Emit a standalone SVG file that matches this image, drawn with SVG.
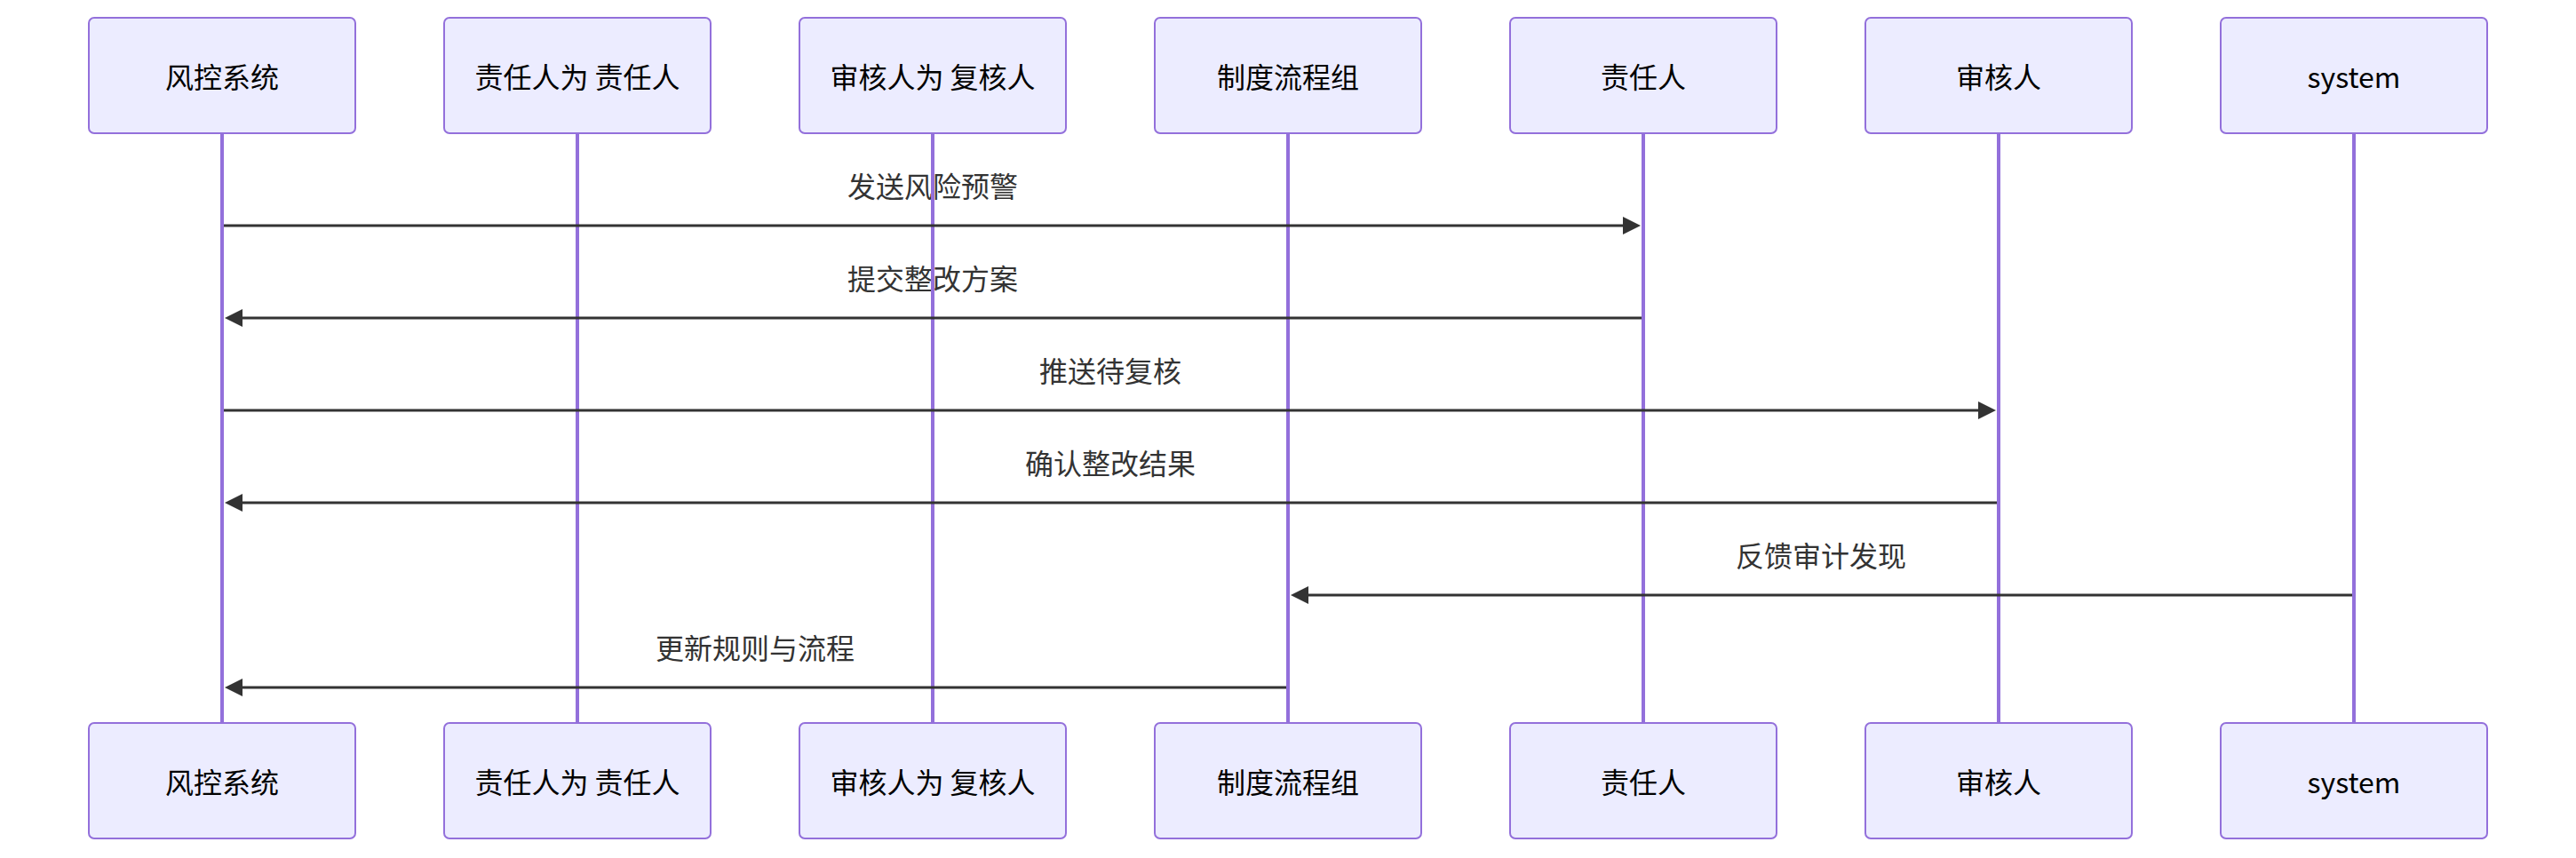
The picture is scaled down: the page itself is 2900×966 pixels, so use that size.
<svg xmlns="http://www.w3.org/2000/svg" width="2900" height="966" viewBox="0 0 2900 966">
<style>
.actor{fill:#ECECFF;stroke:#9370DB;stroke-width:2}
.lt{font-family:"Noto Sans CJK SC","Noto Sans",sans-serif;font-size:32px;fill:#000;text-anchor:middle;dominant-baseline:central}
.life{stroke:#9370DB;stroke-width:4}
.msg{stroke:#333;stroke-width:3;fill:none;marker-end:url(#ah)}
.ml{font-family:"Noto Sans CJK SC","Noto Sans",sans-serif;font-size:32px;fill:#333;text-anchor:middle;dominant-baseline:central}
</style>
<defs>
<marker id="ah" markerUnits="userSpaceOnUse" markerWidth="24" markerHeight="24" refX="13" refY="10" orient="auto">
<path d="M0,0 L20,10 L0,20 z" fill="#333"/>
</marker>
</defs>
<rect width="2900" height="966" fill="#fff"/>
<g id="message-labels">
<text class="ml" x="1050" y="208">发送风险预警</text>
<text class="ml" x="1050" y="312">提交整改方案</text>
<text class="ml" x="1250" y="416">推送待复核</text>
<text class="ml" x="1250" y="520">确认整改结果</text>
<text class="ml" x="2050" y="624">反馈审计发现</text>
<text class="ml" x="850" y="728">更新规则与流程</text>
</g>
<g id="lifelines">
<line class="life" x1="250" y1="150" x2="250" y2="814"/>
<line class="life" x1="650" y1="150" x2="650" y2="814"/>
<line class="life" x1="1050" y1="150" x2="1050" y2="814"/>
<line class="life" x1="1450" y1="150" x2="1450" y2="814"/>
<line class="life" x1="1850" y1="150" x2="1850" y2="814"/>
<line class="life" x1="2250" y1="150" x2="2250" y2="814"/>
<line class="life" x1="2650" y1="150" x2="2650" y2="814"/>
</g>
<g id="actor1"><rect class="actor" x="100" y="20" width="300" height="130" rx="6"/><text class="lt" x="250" y="85">风控系统</text><rect class="actor" x="100" y="814" width="300" height="130" rx="6"/><text class="lt" x="250" y="879">风控系统</text></g>
<g id="actor2"><rect class="actor" x="500" y="20" width="300" height="130" rx="6"/><text class="lt" x="650" y="85">责任人为 责任人</text><rect class="actor" x="500" y="814" width="300" height="130" rx="6"/><text class="lt" x="650" y="879">责任人为 责任人</text></g>
<g id="actor3"><rect class="actor" x="900" y="20" width="300" height="130" rx="6"/><text class="lt" x="1050" y="85">审核人为 复核人</text><rect class="actor" x="900" y="814" width="300" height="130" rx="6"/><text class="lt" x="1050" y="879">审核人为 复核人</text></g>
<g id="actor4"><rect class="actor" x="1300" y="20" width="300" height="130" rx="6"/><text class="lt" x="1450" y="85">制度流程组</text><rect class="actor" x="1300" y="814" width="300" height="130" rx="6"/><text class="lt" x="1450" y="879">制度流程组</text></g>
<g id="actor5"><rect class="actor" x="1700" y="20" width="300" height="130" rx="6"/><text class="lt" x="1850" y="85">责任人</text><rect class="actor" x="1700" y="814" width="300" height="130" rx="6"/><text class="lt" x="1850" y="879">责任人</text></g>
<g id="actor6"><rect class="actor" x="2100" y="20" width="300" height="130" rx="6"/><text class="lt" x="2250" y="85">审核人</text><rect class="actor" x="2100" y="814" width="300" height="130" rx="6"/><text class="lt" x="2250" y="879">审核人</text></g>
<g id="actor7"><rect class="actor" x="2500" y="20" width="300" height="130" rx="6"/><text class="lt" x="2650" y="85">system</text><rect class="actor" x="2500" y="814" width="300" height="130" rx="6"/><text class="lt" x="2650" y="879">system</text></g>
<g id="connectors">
<line class="msg" x1="252" y1="254" x2="1840" y2="254"/>
<line class="msg" x1="1848" y1="358" x2="260" y2="358"/>
<line class="msg" x1="252" y1="462" x2="2240" y2="462"/>
<line class="msg" x1="2248" y1="566" x2="260" y2="566"/>
<line class="msg" x1="2648" y1="670" x2="1460" y2="670"/>
<line class="msg" x1="1448" y1="774" x2="260" y2="774"/>
</g>
</svg>
